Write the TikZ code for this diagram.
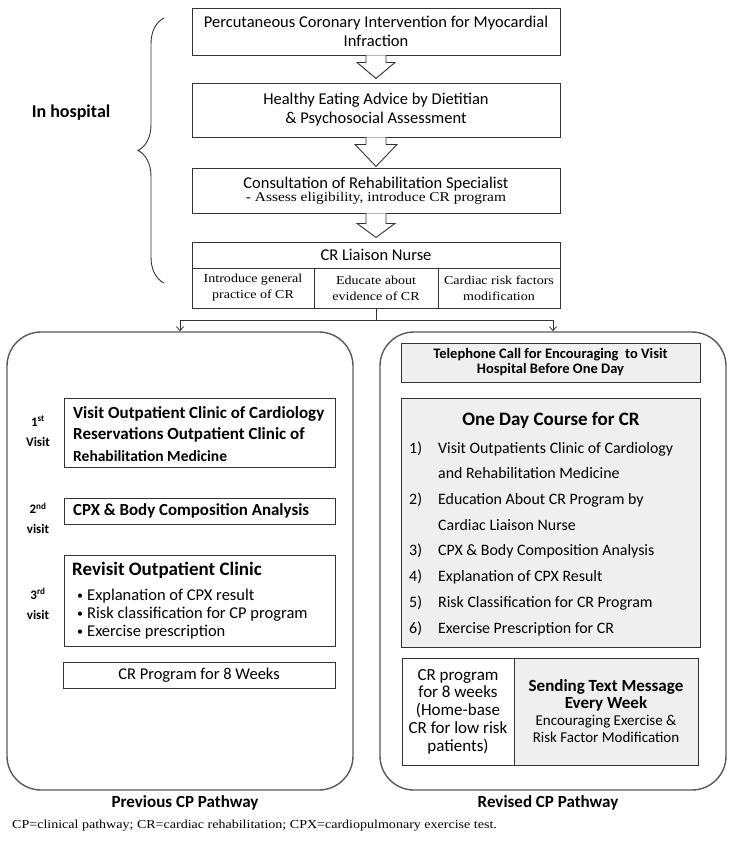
\documentclass[tikz,border=0pt]{standalone}
\usepackage{fontspec}
\setmainfont{Carlito}
\newfontfamily\serf[FakeStretch=1.15]{Liberation Serif}
\usetikzlibrary{arrows.meta,calc,decorations.pathreplacing}
\definecolor{boxgray}{HTML}{EFEFEF}
\definecolor{linegray}{HTML}{333333}
\newcommand{\smbul}{\makebox[12pt][l]{\hspace{2pt}\raisebox{0.8pt}{\fontsize{12}{12}\selectfont\textbullet}}}
\tikzset{
  box/.style={draw=linegray, line width=0.9pt, inner sep=0pt, align=center},
  topfont/.style={font=\fontsize{16.5}{19}\selectfont},
  serfont/.style={font=\serf\fontsize{12.2}{16}\selectfont},
  panel/.style={draw=black!65, line width=1.4pt, rounded corners=34pt, inner sep=0pt},
  hollow/.style={draw=linegray, line width=0.9pt, fill=white, line join=miter},
  link/.style={draw=linegray, line width=0.8pt},
  tip/.style={-{Straight Barb[length=4pt,width=7pt]}},
  vlabel/.style={font=\bfseries\fontsize{13}{20}\selectfont, align=center},
  ptitle/.style={font=\bfseries\fontsize{17}{19}\selectfont},
  intext/.style={inner sep=0pt, align=left},
}
\begin{document}
\begin{tikzpicture}[x=1pt,y=-1pt]
\useasboundingbox (0,0) rectangle (729,841);

% ---------- in hospital ----------
\node[box, topfont, minimum width=368pt, minimum height=47pt] (b1) at (376,31.5)
  {Percutaneous Coronary Intervention for Myocardial\\Infraction};
\node[box, topfont, minimum width=368pt, minimum height=54pt] (b2) at (376,110)
  {Healthy Eating Advice by Dietitian\\\& Psychosocial Assessment};
\node[box, minimum width=368pt, minimum height=45pt] (b3) at (376,190.5)
  {{\fontsize{16.5}{15}\selectfont Consultation of Rehabilitation Specialist}\\[1.5pt]
   {\serf\fontsize{13.4}{15}\selectfont - Assess eligibility, introduce CR program}};
\node[box, topfont, minimum width=368pt, minimum height=26pt] (nurse) at (376,255) {CR Liaison Nurse};
\node[box, serfont, minimum width=122pt, minimum height=40pt] (s1) at (253,288) {Introduce general\\practice of CR};
\node[box, serfont, minimum width=124pt, minimum height=40pt] (s2) at (376,288) {Educate about\\evidence of CR};
\node[box, serfont, minimum width=122pt, minimum height=40pt] (s3) at (499,288) {Cardiac risk factors\\modification};

% hollow block arrows
\draw[hollow] ([xshift=-10pt]b1.south) -- ++(0,7) -- ++(-9,0) -- ++(19,16) -- ++(19,-16) -- ++(-9,0) -- ++(0,-7);
\draw[hollow] ([xshift=-10pt]b2.south) -- ++(0,7) -- ++(-11,0) -- ++(21,22) -- ++(21,-22) -- ++(-11,0) -- ++(0,-7);
\draw[hollow] ([xshift=-10pt]b3.south) -- ++(0,10) -- ++(-9,0) -- ++(19,14) -- ++(19,-14) -- ++(-9,0) -- ++(0,-10);

% brace and label
\draw[line width=0.9pt, linegray, decorate, decoration={brace, amplitude=26pt}] (164,283) -- (164,18);
\node[font=\bfseries\fontsize{18}{20}\selectfont] (inh) at (71,113) {In hospital};

% ---------- panels ----------
\node[panel, minimum width=346pt, minimum height=458pt] (lp) at (180,561) {};
\node[panel, minimum width=346pt, minimum height=458pt] (rp) at (553,561) {};

\coordinate (j) at (376,320);
\draw[link] (s2.south) -- (j);
\draw[link, tip] (j) -| (lp.north);
\draw[link, tip] (j) -| (rp.north);

% ---------- previous pathway ----------
\node[vlabel] (l1) at (38,431) {1\textsuperscript{st}\\Visit};
\node[vlabel] (l2) at (38,518.5) {2\textsuperscript{nd}\\visit};
\node[vlabel] (l3) at (38,604) {3\textsuperscript{rd}\\visit};

\node[box, minimum width=271pt, minimum height=69pt] (v1) at (199.5,432.5) {};
\node[intext, anchor=west, font=\bfseries\fontsize{17}{21.5}\selectfont] (v1t) at (73,434)
  {Visit Outpatient Clinic of Cardiology\\Reservations Outpatient Clinic of\\\fontsize{15.5}{20}\selectfont Rehabilitation Medicine};
\node[box, minimum width=271pt, minimum height=26pt] (v2) at (199.5,511) {};
\node[intext, anchor=west, font=\bfseries\fontsize{16.9}{18}\selectfont] (v2t) at (73,511)
  {CPX \& Body Composition Analysis};
\node[box, minimum width=271pt, minimum height=91pt] (v3) at (199.5,600.5) {};
\node[anchor=base west, inner sep=0pt, font=\bfseries\fontsize{19}{20}\selectfont] (v3t) at (72,575) {Revisit Outpatient Clinic};
\node[anchor=base west, intext, font=\fontsize{16.5}{18}\selectfont] (v3l) at (75,636)
  {\smbul Explanation of CPX result\\
   \smbul Risk classification for CP program\\
   \smbul Exercise prescription};
\node[box, topfont, minimum width=272pt, minimum height=26pt] (crp) at (199,675) {CR Program for 8 Weeks};

% ---------- revised pathway ----------
\node[box, fill=boxgray, minimum width=299pt, minimum height=39pt, font=\bfseries\fontsize{14.5}{15}\selectfont] (tel) at (550.5,362.5)
  {Telephone Call for Encouraging\ \ to Visit\\Hospital Before One Day};
\node[box, fill=boxgray, minimum width=299pt, minimum height=249pt] (od) at (550.5,522.5) {};
\node[font=\bfseries\fontsize{19}{20}\selectfont, inner sep=0pt] (odt) at (551,420) {One Day Course for CR};
\node[anchor=base west, intext, font=\fontsize{15.9}{25.7}\selectfont] (odl) at (409,633)
  {\makebox[29pt][l]{1)}Visit Outpatients Clinic of Cardiology\\
   \hspace*{29pt}and Rehabilitation Medicine\\
   \makebox[29pt][l]{2)}Education About CR Program by\\
   \hspace*{29pt}Cardiac Liaison Nurse\\
   \makebox[29pt][l]{3)}CPX \& Body Composition Analysis\\
   \makebox[29pt][l]{4)}Explanation of CPX Result\\
   \makebox[29pt][l]{5)}Risk Classification for CR Program\\
   \makebox[29pt][l]{6)}Exercise Prescription for CR};

\node[box, minimum width=112pt, minimum height=107pt, font=\fontsize{17}{17.8}\selectfont] (crw) at (458,711.5)
  {CR program\\for 8 weeks\\(Home-base\\CR for low risk\\patients)};
\node[box, fill=boxgray, minimum width=184pt, minimum height=107pt, font=\fontsize{17}{17}\selectfont] (txt) at (606,711.5)
  {\bfseries Sending Text Message\\\bfseries Every Week\\
   \fontsize{15}{17}\selectfont Encouraging Exercise \&\\\fontsize{15}{17}\selectfont Risk Factor Modification};

\node[ptitle] (pt1) at (185,803) {Previous CP Pathway};
\node[ptitle] (pt2) at (548,803) {Revised CP Pathway};

\node[anchor=west, inner sep=0pt, font=\serf\fontsize{12.2}{14}\selectfont] (cap) at (12,826)
  {CP=clinical pathway; CR=cardiac rehabilitation; CPX=cardiopulmonary exercise test.};
\end{tikzpicture}
\end{document}
